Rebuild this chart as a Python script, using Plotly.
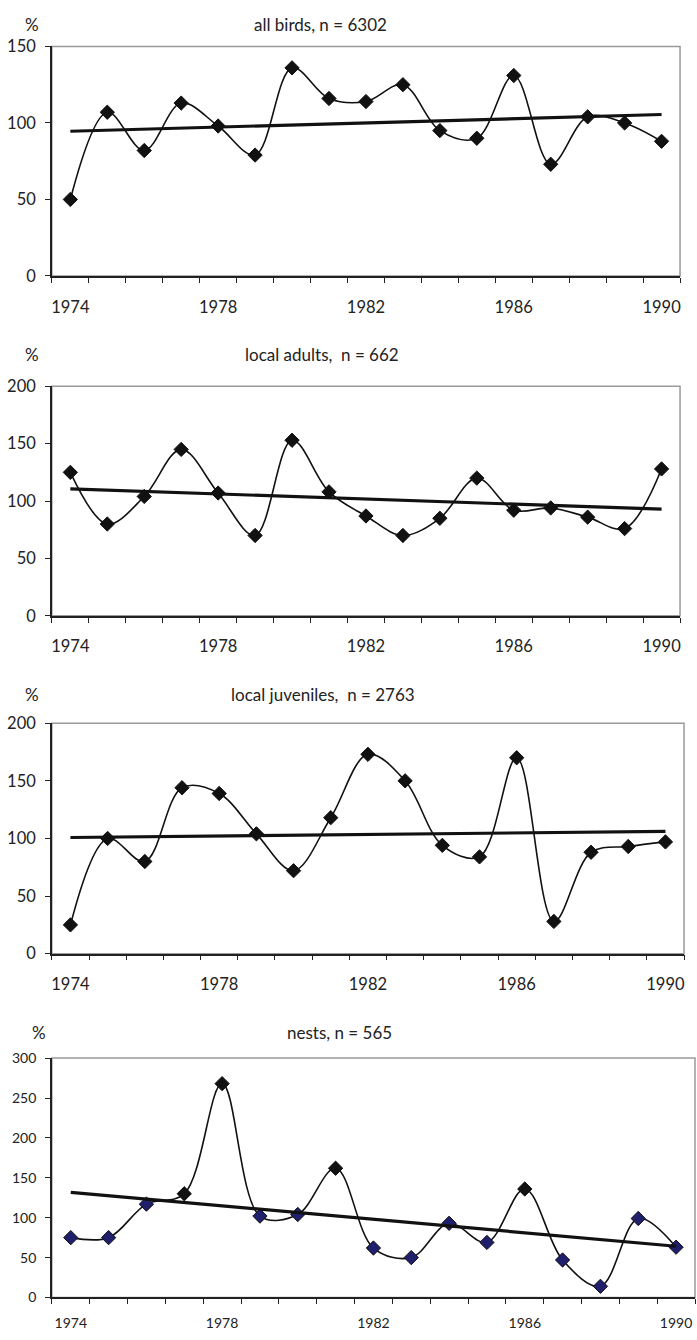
import numpy as np
import plotly.graph_objects as go

years = list(range(1974, 1991))
tick_years = [1974, 1978, 1982, 1986, 1990]

all_birds = [50, 107, 82, 113, 98, 79, 136, 116, 114, 125, 95, 90, 131, 73, 104, 100, 88]
local_adults = [125, 80, 104, 145, 107, 70, 153, 108, 87, 70, 85, 120, 92, 94, 86, 76, 128]
local_juveniles = [25, 100, 80, 144, 139, 104, 72, 118, 173, 150, 94, 84, 170, 28, 88, 93, 97]
nests = [75, 75, 117, 130, 268, 102, 104, 162, 62, 50, 93, 69, 136, 47, 14, 99, 63]

titles = ["all birds, n = 6302", "local adults,\u00a0 n = 662",
          "local juveniles,\u00a0 n = 2763", "nests, n = 565"]
series = [all_birds, local_adults, local_juveniles, nests]
y_max = [150, 200, 200, 300]
y_dtick = [50, 50, 50, 50]

W, H = 697, 1340
# pixel layout of each panel: left, right, top, bottom
boxes = [(51, 681, 37, 270), (51, 681, 382, 615), (51, 685, 724, 958), (51, 696, 1064, 1307)]
label_y = [15, 350, 695, 1038]
title_x = [320, 322, 323, 339]
pct_x = [31, 31, 31, 38]

navy = "#1f1f6b"
nest_marker_colors = [navy, navy, navy, "#111", "#111", navy, navy, "#111", navy, navy,
                      navy, navy, "#111", navy, navy, navy, navy]

FONT = "Lato"
fig = go.Figure()
shapes = []
annotations = []
for i, (vals, box) in enumerate(zip(series, boxes)):
    l, r, t, b = box
    xa = "x" if i == 0 else f"x{i+1}"
    ya = "y" if i == 0 else f"y{i+1}"
    small = i == 3
    fs = 14 if small else 16.5
    mcol = nest_marker_colors if small else "#111"
    fig.add_trace(go.Scatter(
        x=years, y=vals, mode="lines+markers", xaxis=xa, yaxis=ya,
        line=dict(color="#111", width=1.6, shape="spline", smoothing=1.0),
        marker=dict(symbol="diamond", size=11, color=mcol, line=dict(color="#111", width=1)),
        showlegend=False, cliponaxis=False, hoverinfo="skip"))
    k, c = np.polyfit(years, vals, 1)
    fit = [k * yr + c for yr in years]
    fig.add_trace(go.Scatter(
        x=[years[0], years[-1]], y=[fit[0], fit[-1]], mode="lines", xaxis=xa, yaxis=ya,
        line=dict(color="#111", width=3.2), showlegend=False, hoverinfo="skip"))
    xd = [l / W, r / W]
    yd = [1 - b / H, 1 - t / H]
    axis_common = dict(showgrid=False, zeroline=False, showline=True, linecolor="#222",
                       linewidth=1.5, tickfont=dict(family=FONT, size=fs, color="#222"))
    fig.update_layout(**{
        ("xaxis" if i == 0 else f"xaxis{i+1}"): dict(
            domain=xd, anchor=ya, range=[1973.5, 1990.5], tickmode="array",
            tickvals=tick_years, ticktext=[str(v) for v in tick_years], ticks="",
            ticklabelstandoff=15 if not small else 12,
            minor=dict(ticks="outside", tick0=1973.5, dtick=1, ticklen=5, tickcolor="#222",
                       tickwidth=1.2, showgrid=False),
            **axis_common),
        ("yaxis" if i == 0 else f"yaxis{i+1}"): dict(
            domain=yd, anchor=xa, range=[0, y_max[i]], dtick=y_dtick[i], ticks="outside",
            ticklen=5, tickcolor="#222", tickwidth=1.2, ticklabelstandoff=6,
            **axis_common),
    })
    shapes.append(dict(type="rect", xref="paper", yref="paper", x0=xd[0], x1=xd[1],
                       y0=yd[0], y1=yd[1], line=dict(color="#9a9a9a", width=1.5), layer="below"))
    annotations.append(dict(text=titles[i], x=title_x[i] / W, y=1 - label_y[i] / H,
                            xref="paper", yref="paper", showarrow=False,
                            font=dict(family=FONT, size=17, color="#222"),
                            xanchor="center", yanchor="middle"))
    annotations.append(dict(text="%", x=pct_x[i] / W, y=1 - label_y[i] / H,
                            xref="paper", yref="paper", showarrow=False,
                            font=dict(family=FONT, size=17, color="#222"),
                            xanchor="center", yanchor="middle"))

fig.update_layout(width=W, height=H, margin=dict(l=0, r=0, t=0, b=0),
                  plot_bgcolor="white", paper_bgcolor="white",
                  shapes=shapes, annotations=annotations)
fig.write_html("out.html", config={"displayModeBar": False},
               post_script="document.body.style.margin='0';document.body.style.overflow='hidden';")
